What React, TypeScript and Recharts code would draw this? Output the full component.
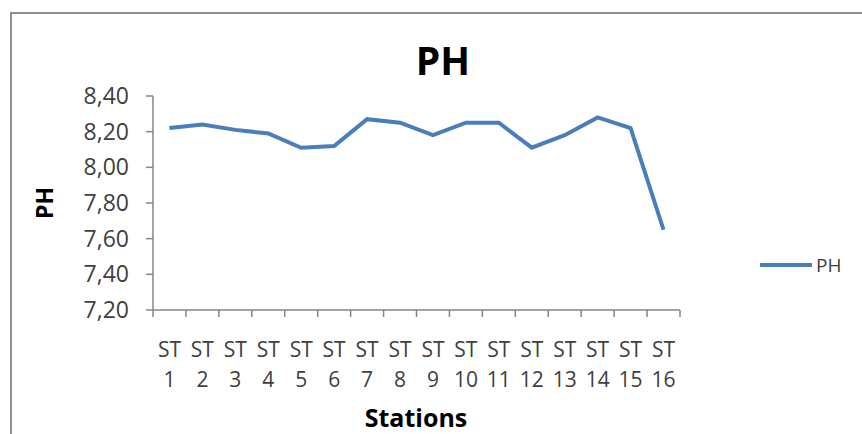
import React from "react";
import { LineChart, Line, XAxis, YAxis, Legend } from "recharts";

const stations = [
  "ST 1", "ST 2", "ST 3", "ST 4", "ST 5", "ST 6", "ST 7", "ST 8",
  "ST 9", "ST 10", "ST 11", "ST 12", "ST 13", "ST 14", "ST 15", "ST 16",
];
const phValues = [
  8.22, 8.24, 8.21, 8.19, 8.11, 8.12, 8.27, 8.25,
  8.18, 8.25, 8.25, 8.11, 8.18, 8.28, 8.22, 7.65,
];
const yTicks = [7.2, 7.4, 7.6, 7.8, 8.0, 8.2, 8.4];

const data = stations.map((name, i) => ({ pos: i + 1, name, ph: phValues[i] }));
const labelTicks = stations.map((_, i) => i + 1);
const boundaryTicks = [...stations.map((_, i) => i + 0.5), stations.length + 0.5];
const xDomain = [0.5, stations.length + 0.5];

const FONT = '"Open Sans", "DejaVu Sans", sans-serif';
const AXIS = "#868686";
const LINE = "#4a7ebb";

function StationTick({ x, y, payload }: any) {
  const [a, b] = stations[payload.value - 1].split(" ");
  return (
    <text x={x} y={y} textAnchor="middle" fill="#404040" fontSize={21} fontFamily={FONT}>
      <tspan x={x} dy={40}>{a}</tspan>
      <tspan x={x} dy={30}>{b}</tspan>
    </text>
  );
}

function NoTick() {
  return <g />;
}

function YTitle({ viewBox }: any) {
  const cx = 44;
  const cy = viewBox.y + viewBox.height / 2;
  return (
    <text
      x={cx}
      y={cy}
      transform={`rotate(-90, ${cx}, ${cy})`}
      textAnchor="middle"
      dominantBaseline="central"
      fontSize={23}
      fontWeight="bold"
      fontFamily={FONT}
      fill="#000"
    >
      PH
    </text>
  );
}

function LegendBox() {
  return (
    <div style={{ display: "flex", alignItems: "center", fontFamily: FONT }}>
      <svg width={52} height={10}>
        <line x1={1} y1={5} x2={51} y2={5} stroke={LINE} strokeWidth={4} strokeLinecap="round" />
      </svg>
      <span style={{ fontSize: 19, color: "#404040", marginLeft: 4 }}>PH</span>
    </div>
  );
}

export default function App() {
  return (
    <div
      style={{
        position: "fixed",
        left: 0,
        top: 0,
        width: 862,
        height: 434,
        overflow: "hidden",
        background: "#fff",
        fontFamily: FONT,
      }}
    >
      <div
        style={{
          position: "absolute",
          left: 10,
          top: 12,
          width: 1000,
          height: 600,
          border: "2px solid #8f8f8f",
        }}
      />
      <div
        style={{
          position: "absolute",
          left: 343,
          width: 200,
          top: 36,
          textAlign: "center",
          fontSize: 39,
          fontWeight: "bold",
          lineHeight: "48px",
          color: "#000",
        }}
      >
        PH
      </div>
      <div
        style={{
          position: "absolute",
          left: 316,
          width: 200,
          top: 400,
          textAlign: "center",
          fontSize: 25,
          fontWeight: "bold",
          lineHeight: "34px",
          color: "#000",
        }}
      >
        Stations
      </div>
      <div style={{ position: "absolute", left: 0, top: 0 }}>
        <LineChart
          width={862}
          height={434}
          data={data}
          margin={{ top: 96, right: 182, bottom: 0, left: 20 }}
        >
          <XAxis
            xAxisId="a_ticks"
            dataKey="pos"
            type="number"
            domain={xDomain}
            ticks={boundaryTicks}
            tick={<NoTick />}
            tickSize={7}
            height={7}
            interval={0}
            stroke={AXIS}
            strokeWidth={1.5}
          />
          <XAxis
            xAxisId="b_labels"
            dataKey="pos"
            type="number"
            domain={xDomain}
            ticks={labelTicks}
            tick={<StationTick />}
            tickLine={false}
            axisLine={false}
            tickSize={0}
            tickMargin={0}
            height={117}
            interval={0}
          />
          <YAxis
            domain={[7.2, 8.4]}
            ticks={yTicks}
            width={133}
            tickSize={7}
            tickMargin={17}
            stroke={AXIS}
            strokeWidth={1.5}
            interval={0}
            tick={{ fill: "#404040", fontSize: 23, fontFamily: FONT }}
            tickFormatter={(v: number) => v.toFixed(2).replace(".", ",")}
            label={{ content: <YTitle /> }}
          />
          <Legend
            layout="horizontal"
            verticalAlign="middle"
            align="center"
            content={<LegendBox />}
            wrapperStyle={{ left: 760, top: 252, width: 100, height: 26 }}
          />
          <Line
            xAxisId="a_ticks"
            dataKey="ph"
            name="PH"
            stroke={LINE}
            strokeWidth={4}
            dot={false}
            activeDot={false}
            isAnimationActive={false}
          />
        </LineChart>
      </div>
    </div>
  );
}
